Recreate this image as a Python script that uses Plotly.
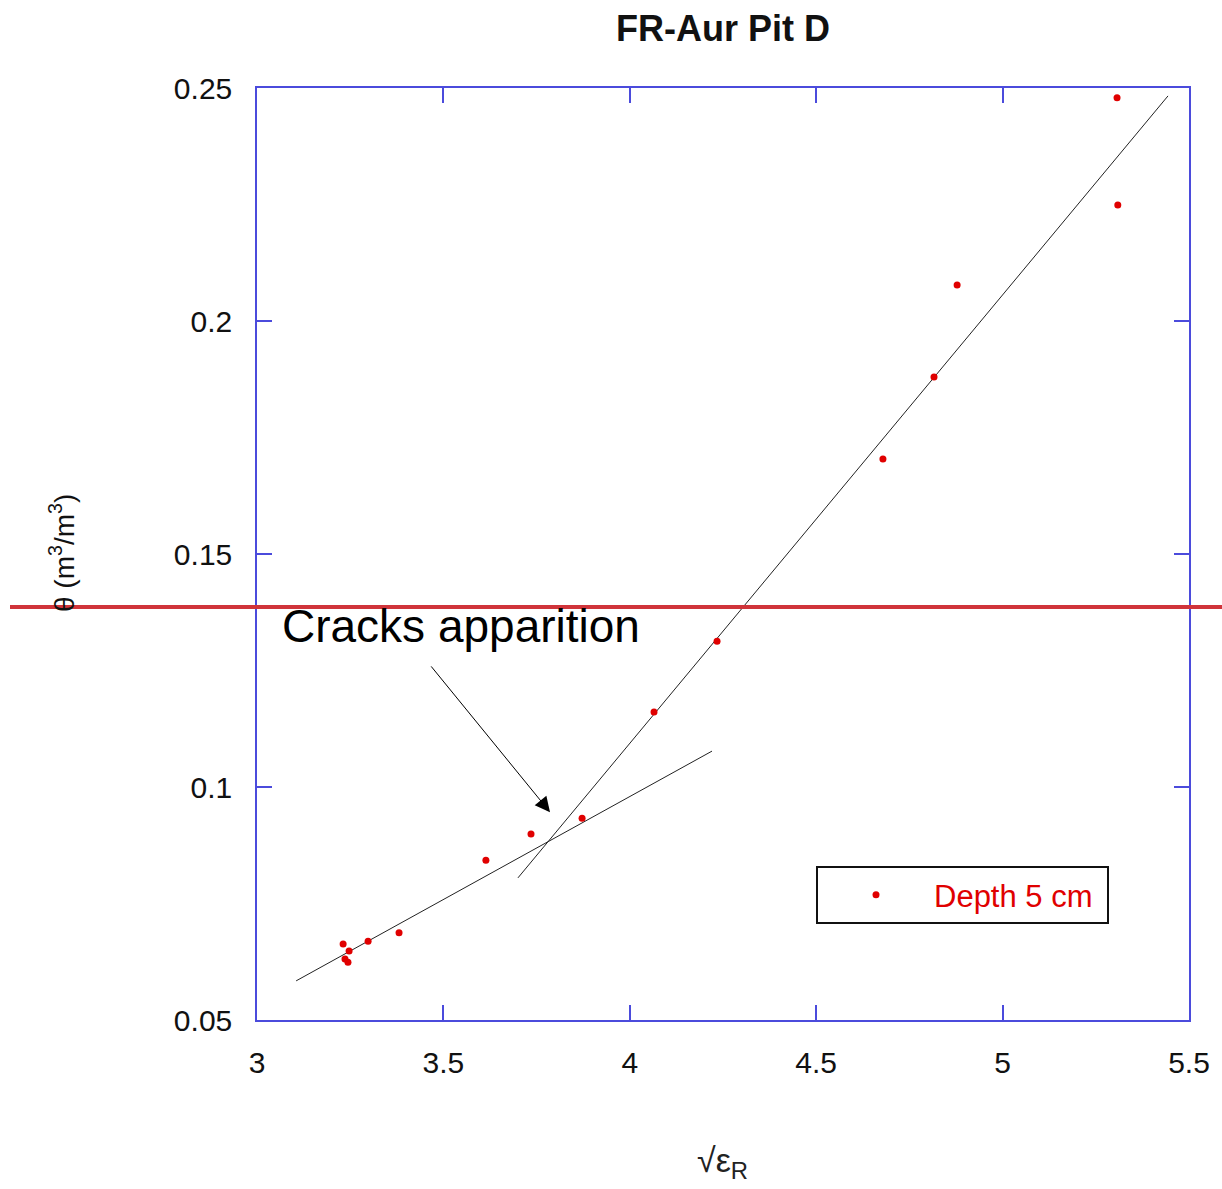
import plotly.graph_objects as go

# Data
sqrt_eps = [5.307, 5.309, 4.878, 4.816, 4.679, 4.234, 4.065, 3.872, 3.735, 3.614,
            3.381, 3.298, 3.231, 3.247, 3.236, 3.244]
theta = [0.2479, 0.2249, 0.2077, 0.1880, 0.1704, 0.1313, 0.1161, 0.0933, 0.0899, 0.0843,
         0.0687, 0.0669, 0.0663, 0.0648, 0.0631, 0.0624]

fit_low_x = [3.105, 4.2205]
fit_low_y = [0.0584, 0.1077]
fit_high_x = [3.700, 5.4437]
fit_high_y = [0.0805, 0.2483]

x_ticks = [3, 3.5, 4, 4.5, 5, 5.5]
x_tick_labels = ["3", "3.5", "4", "4.5", "5", "5.5"]
y_ticks = [0.05, 0.1, 0.15, 0.2, 0.25]
y_tick_labels = ["0.05", "0.1", "0.15", "0.2", "0.25"]

FONT = "Arial, Liberation Sans, sans-serif"
BLUE = "#4b4bdc"

fig = go.Figure()
fig.add_trace(go.Scatter(x=fit_low_x, y=fit_low_y, mode="lines",
                         line=dict(color="#222222", width=1), showlegend=False, hoverinfo="skip"))
fig.add_trace(go.Scatter(x=fit_high_x, y=fit_high_y, mode="lines",
                         line=dict(color="#222222", width=1), showlegend=False, hoverinfo="skip"))
fig.add_trace(go.Scatter(x=sqrt_eps, y=theta, mode="markers", name="Depth 5 cm\u00a0",
                         marker=dict(color="#e00000", size=7)))

axis_common = dict(showline=True, linecolor=BLUE, linewidth=1.5, mirror="allticks",
                   ticks="inside", ticklen=15, tickcolor=BLUE, tickwidth=1.5,
                   showgrid=False, zeroline=False,
                   tickfont=dict(family=FONT, size=30, color="#111111"))

fig.update_layout(
    width=1222, height=1189,
    margin=dict(l=257, r=33, t=88, b=169),
    paper_bgcolor="white", plot_bgcolor="white",
    title=dict(text="<b>FR-Aur Pit D</b>", x=(723 - 257) / 932, xref="paper",
               y=1 - 28 / 1189, yref="container", xanchor="center", yanchor="middle",
               font=dict(family=FONT, size=36, color="#111111")),
    xaxis=dict(range=[3, 5.5], tickvals=x_ticks, ticktext=x_tick_labels,
               ticklabelstandoff=15, **axis_common),
    yaxis=dict(range=[0.05, 0.25], tickvals=y_ticks, ticktext=y_tick_labels,
               ticklabelstandoff=17, **axis_common),
    legend=dict(x=(816 - 257) / 932, y=(1020 - 866) / 932, xanchor="left", yanchor="top",
                bordercolor="#111111", borderwidth=2, bgcolor="white",
                font=dict(family=FONT, size=31, color="#e00000"),
                itemwidth=106),
    showlegend=True,
)

# annotations
fig.add_annotation(x=3.547, y=0.1345, xref="x", yref="y", text="Cracks apparition",
                   showarrow=False, font=dict(family=FONT, size=46, color="#000000"),
                   xanchor="center", yanchor="middle")
fig.add_annotation(x=3.786, y=0.0946, ax=3.464, ay=0.1262, xref="x", yref="y",
                   axref="x", ayref="y", text="", showarrow=True,
                   arrowhead=2, arrowsize=3, arrowwidth=1, arrowcolor="#000000")
# axis titles
fig.add_annotation(x=(62 - 257) / 932, y=(1020 - 553) / 932, xref="paper", yref="paper",
                   text="θ (m<sup>3</sup>/m<sup>3</sup>)", textangle=-90, showarrow=False,
                   font=dict(family=FONT, size=28, color="#111111"),
                   xanchor="center", yanchor="middle")
fig.add_annotation(x=(722 - 257) / 932, y=(1020 - 1162) / 932, xref="paper", yref="paper",
                   text="√ε<sub>R</sub>", showarrow=False,
                   font=dict(family=FONT, size=34, color="#222222"),
                   xanchor="center", yanchor="middle")
# red horizontal line drawn over the figure
fig.add_shape(type="line", xref="paper", yref="y",
              x0=(10 - 257) / 932, x1=(1222 - 257) / 932, y0=0.1386, y1=0.1386,
              line=dict(color="#d0343a", width=4), layer="above")

fig.write_html("out.html")
